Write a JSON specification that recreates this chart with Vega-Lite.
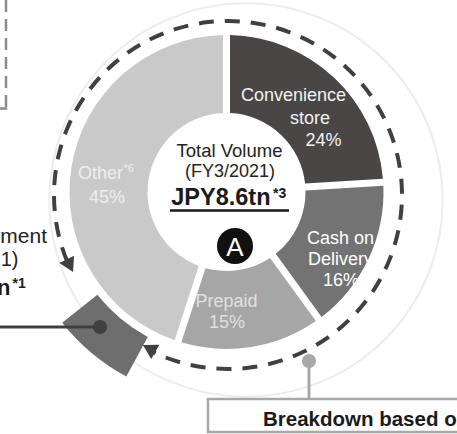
{
  "$schema": "https://vega.github.io/schema/vega-lite/v6.json",
  "width": 453,
  "height": 384,
  "autosize": "none",
  "padding": {"left": 0, "top": 0, "right": 4, "bottom": 50},
  "background": "white",
  "config": {"view": {"stroke": null}, "font": "Liberation Sans", "text": {"font": "Liberation Sans"}},
  "data": {
    "values": [
      {"category": "Convenience store", "share": 24, "seq": 1, "l1": "Convenience", "l2": "store", "note": "", "pct": "24%"},
      {"category": "Cash on Delivery", "share": 16, "seq": 2, "l1": "Cash on", "l2": "Delivery", "note": "", "pct": "16%"},
      {"category": "Prepaid", "share": 15, "seq": 3, "l1": "Prepaid", "l2": "", "note": "", "pct": "15%"},
      {"category": "Other", "share": 45, "seq": 4, "l1": "Other", "l2": "", "note": "*6", "pct": "45%"}
    ]
  },
  "layer": [
    {"data": {"values": [{}]}, "mark": {"type": "point", "shape": "circle", "filled": false, "stroke": "#ececec", "strokeWidth": 2, "size": 154830, "opacity": 1},
     "encoding": {"x": {"value": 246}, "y": {"value": 200}}},
    {"data": {"values": [{}]}, "mark": {"type": "rule", "stroke": "#8c8c8c", "strokeWidth": 2.5, "strokeDash": [12, 7]},
     "encoding": {"x": {"value": 6}, "y": {"value": 0}, "y2": {"value": 108}}},
    {"data": {"values": [{}]}, "mark": {"type": "rule", "stroke": "#8c8c8c", "strokeWidth": 2.5},
     "encoding": {"x": {"value": 0}, "x2": {"value": 7.2}, "y": {"value": 108.5}, "y2": {"value": 108.5}}},
    {"data": {"values": [{}]}, "mark": {"type": "arc", "filled": false, "stroke": "#404040", "strokeWidth": 4, "strokeDash": [15, 11]},
     "encoding": {"x": {"value": 228}, "y": {"value": 195}, "theta": {"value": 4.3214}, "theta2": {"value": 9.8699}, "radius": {"value": 174}, "radius2": {"value": 0}}},
    {"data": {"values": [{}]}, "mark": {"type": "arc", "fill": "white"},
     "encoding": {"x": {"value": 228}, "y": {"value": 195}, "theta": {"value": 0}, "theta2": {"value": 6.2832}, "radius": {"value": 171.5}, "radius2": {"value": 0}}},
    {"data": {"values": [{}]}, "mark": {"type": "arc", "fill": "#6e6e6e"},
     "encoding": {"x": {"value": 226.5}, "y": {"value": 192}, "theta": {"value": 3.639}, "theta2": {"value": 4.0404}, "radius": {"value": 210}, "radius2": {"value": 165}}},
    {"mark": {"type": "arc", "outerRadius": 157, "innerRadius": 79, "padAngle": 0.04},
     "encoding": {
       "theta": {"field": "share", "type": "quantitative", "stack": true},
       "order": {"field": "seq", "type": "quantitative"},
       "color": {"field": "category", "type": "nominal", "legend": null,
         "scale": {"domain": ["Convenience store", "Cash on Delivery", "Prepaid", "Other"], "range": ["#4a4645", "#737373", "#a6a6a6", "#c9c9c9"]}}
     }},
    {"mark": {"type": "text", "radius": 118, "dx": -13.8, "dy": -4.5, "fontSize": 18, "baseline": "alphabetic", "align": "center", "fill": "#f2f2f2"},
     "encoding": {"theta": {"field": "share", "type": "quantitative", "stack": true}, "order": {"field": "seq", "type": "quantitative"},
       "text": {"condition": {"test": "datum.category === 'Convenience store'", "field": "l1", "type": "nominal"}, "value": ""}}},
    {"mark": {"type": "text", "radius": 118, "dx": 2.7, "dy": 18, "fontSize": 18, "baseline": "alphabetic", "align": "center", "fill": "#f2f2f2"},
     "encoding": {"theta": {"field": "share", "type": "quantitative", "stack": true}, "order": {"field": "seq", "type": "quantitative"},
       "text": {"condition": {"test": "datum.category === 'Convenience store'", "field": "l2", "type": "nominal"}, "value": ""}}},
    {"mark": {"type": "text", "radius": 118, "dx": 16.2, "dy": 40.5, "fontSize": 18, "baseline": "alphabetic", "align": "center", "fill": "#f2f2f2"},
     "encoding": {"theta": {"field": "share", "type": "quantitative", "stack": true}, "order": {"field": "seq", "type": "quantitative"},
       "text": {"condition": {"test": "datum.category === 'Convenience store'", "field": "pct", "type": "nominal"}, "value": ""}}},
    {"mark": {"type": "text", "radius": 118, "dx": 7.2, "dy": 1.8, "fontSize": 18, "baseline": "alphabetic", "align": "center", "fill": "#ffffff"},
     "encoding": {"theta": {"field": "share", "type": "quantitative", "stack": true}, "order": {"field": "seq", "type": "quantitative"},
       "text": {"condition": {"test": "datum.category === 'Cash on Delivery'", "field": "l1", "type": "nominal"}, "value": ""}}},
    {"mark": {"type": "text", "radius": 118, "dx": 7.2, "dy": 22.8, "fontSize": 18, "baseline": "alphabetic", "align": "center", "fill": "#ffffff"},
     "encoding": {"theta": {"field": "share", "type": "quantitative", "stack": true}, "order": {"field": "seq", "type": "quantitative"},
       "text": {"condition": {"test": "datum.category === 'Cash on Delivery'", "field": "l2", "type": "nominal"}, "value": ""}}},
    {"mark": {"type": "text", "radius": 118, "dx": 7.7, "dy": 43.8, "fontSize": 18, "baseline": "alphabetic", "align": "center", "fill": "#ffffff"},
     "encoding": {"theta": {"field": "share", "type": "quantitative", "stack": true}, "order": {"field": "seq", "type": "quantitative"},
       "text": {"condition": {"test": "datum.category === 'Cash on Delivery'", "field": "pct", "type": "nominal"}, "value": ""}}},
    {"mark": {"type": "text", "radius": 118, "dx": -18.5, "dy": -1.5, "fontSize": 18, "baseline": "alphabetic", "align": "center", "fill": "#e0e0e0"},
     "encoding": {"theta": {"field": "share", "type": "quantitative", "stack": true}, "order": {"field": "seq", "type": "quantitative"},
       "text": {"condition": {"test": "datum.category === 'Prepaid'", "field": "l1", "type": "nominal"}, "value": ""}}},
    {"mark": {"type": "text", "radius": 118, "dx": -18, "dy": 19.5, "fontSize": 18, "baseline": "alphabetic", "align": "center", "fill": "#e0e0e0"},
     "encoding": {"theta": {"field": "share", "type": "quantitative", "stack": true}, "order": {"field": "seq", "type": "quantitative"},
       "text": {"condition": {"test": "datum.category === 'Prepaid'", "field": "pct", "type": "nominal"}, "value": ""}}},
    {"mark": {"type": "text", "radius": 118, "dx": -9.5, "dy": 5.5, "fontSize": 18, "baseline": "alphabetic", "align": "center", "fill": "#eeeeee"},
     "encoding": {"theta": {"field": "share", "type": "quantitative", "stack": true}, "order": {"field": "seq", "type": "quantitative"},
       "text": {"condition": {"test": "datum.category === 'Other'", "field": "l1", "type": "nominal"}, "value": ""}}},
    {"mark": {"type": "text", "radius": 118, "dx": 13.5, "dy": -1.5, "fontSize": 11, "baseline": "alphabetic", "align": "left", "fill": "#eeeeee"},
     "encoding": {"theta": {"field": "share", "type": "quantitative", "stack": true}, "order": {"field": "seq", "type": "quantitative"},
       "text": {"condition": {"test": "datum.category === 'Other'", "field": "note", "type": "nominal"}, "value": ""}}},
    {"mark": {"type": "text", "radius": 118, "dx": -3, "dy": 29.5, "fontSize": 18, "baseline": "alphabetic", "align": "center", "fill": "#eeeeee"},
     "encoding": {"theta": {"field": "share", "type": "quantitative", "stack": true}, "order": {"field": "seq", "type": "quantitative"},
       "text": {"condition": {"test": "datum.category === 'Other'", "field": "pct", "type": "nominal"}, "value": ""}}},
    {"data": {"values": [{}]}, "mark": {"type": "text", "text": "Total Volume", "fontSize": 18.5, "align": "center", "baseline": "alphabetic", "fill": "#222222"},
     "encoding": {"x": {"value": 229.5}, "y": {"value": 157}}},
    {"data": {"values": [{}]}, "mark": {"type": "text", "text": "(FY3/2021)", "fontSize": 18, "align": "center", "baseline": "alphabetic", "fill": "#222222"},
     "encoding": {"x": {"value": 230}, "y": {"value": 176.5}}},
    {"data": {"values": [{}]}, "mark": {"type": "text", "text": "JPY8.6tn", "fontSize": 23.5, "fontWeight": "bold", "align": "right", "baseline": "alphabetic", "fill": "#1a1a1a"},
     "encoding": {"x": {"value": 270.5}, "y": {"value": 205}}},
    {"data": {"values": [{}]}, "mark": {"type": "text", "text": "*3", "fontSize": 14, "fontWeight": "bold", "align": "left", "baseline": "alphabetic", "fill": "#1a1a1a"},
     "encoding": {"x": {"value": 273}, "y": {"value": 197.5}}},
    {"data": {"values": [{}]}, "mark": {"type": "rule", "stroke": "#1a1a1a", "strokeWidth": 2.5},
     "encoding": {"x": {"value": 170}, "x2": {"value": 289}, "y": {"value": 210.5}, "y2": {"value": 210.5}}},
    {"data": {"values": [{}]}, "mark": {"type": "point", "shape": "circle", "filled": true, "fill": "#111111", "size": 1300, "opacity": 1},
     "encoding": {"x": {"value": 235}, "y": {"value": 246}}},
    {"data": {"values": [{}]}, "mark": {"type": "text", "text": "A", "fontSize": 26, "align": "center", "baseline": "alphabetic", "fill": "#ffffff"},
     "encoding": {"x": {"value": 235}, "y": {"value": 255.5}}},
    {"data": {"values": [{}]}, "mark": {"type": "point", "shape": "triangle-up", "filled": true, "fill": "#404040", "size": 270, "angle": 153.6, "opacity": 1},
     "encoding": {"x": {"value": 69.9}, "y": {"value": 265.7}}},
    {"data": {"values": [{}]}, "mark": {"type": "point", "shape": "triangle-up", "filled": true, "fill": "#404040", "size": 270, "angle": 299.5, "opacity": 1},
     "encoding": {"x": {"value": 149.1}, "y": {"value": 348.4}}},
    {"data": {"values": [{}]}, "mark": {"type": "rule", "stroke": "#404040", "strokeWidth": 3},
     "encoding": {"x": {"value": 0}, "x2": {"value": 100}, "y": {"value": 327}, "y2": {"value": 327}}},
    {"data": {"values": [{}]}, "mark": {"type": "point", "shape": "circle", "filled": true, "fill": "#404040", "size": 201, "opacity": 1},
     "encoding": {"x": {"value": 100}, "y": {"value": 327}}},
    {"data": {"values": [{}]}, "mark": {"type": "rule", "stroke": "#a8a8a8", "strokeWidth": 3},
     "encoding": {"x": {"value": 309}, "y": {"value": 361}, "y2": {"value": 399}}},
    {"data": {"values": [{}]}, "mark": {"type": "point", "shape": "circle", "filled": true, "fill": "#a8a8a8", "size": 201, "opacity": 1},
     "encoding": {"x": {"value": 309}, "y": {"value": 361}}},
    {"data": {"values": [{}]}, "mark": {"type": "rect", "fill": "white", "stroke": "#a8a8a8", "strokeWidth": 2.5},
     "encoding": {"x": {"value": 208}, "x2": {"value": 470}, "y": {"value": 399}, "y2": {"value": 432}}},
    {"data": {"values": [{}]}, "mark": {"type": "text", "text": "Breakdown based on payment method", "fontSize": 20.5, "fontWeight": "bold", "align": "left", "baseline": "alphabetic", "fill": "#1a1a1a"},
     "encoding": {"x": {"value": 263}, "y": {"value": 426}}},
    {"data": {"values": [{}]}, "mark": {"type": "text", "text": "Cashless Payment", "fontSize": 21, "align": "right", "baseline": "alphabetic", "fill": "#222222"},
     "encoding": {"x": {"value": 47}, "y": {"value": 243}}},
    {"data": {"values": [{}]}, "mark": {"type": "text", "text": "(FY3/2021)", "fontSize": 20, "align": "right", "baseline": "alphabetic", "fill": "#222222"},
     "encoding": {"x": {"value": 18.5}, "y": {"value": 266}}},
    {"data": {"values": [{}]}, "mark": {"type": "text", "text": "JPY44.7tn", "fontSize": 22, "fontWeight": "bold", "align": "right", "baseline": "alphabetic", "fill": "#1a1a1a"},
     "encoding": {"x": {"value": 10.5}, "y": {"value": 295}}},
    {"data": {"values": [{}]}, "mark": {"type": "text", "text": "*1", "fontSize": 14, "fontWeight": "bold", "align": "left", "baseline": "alphabetic", "fill": "#1a1a1a"},
     "encoding": {"x": {"value": 12.5}, "y": {"value": 288}}}
  ]
}
